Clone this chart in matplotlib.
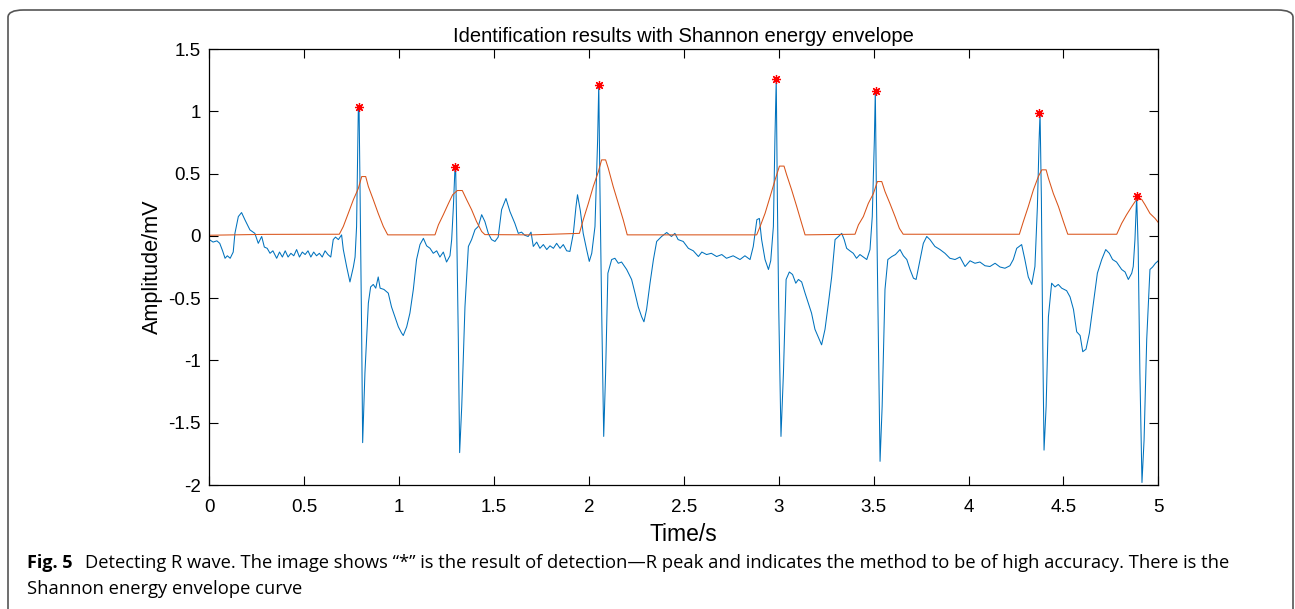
import matplotlib
matplotlib.use("Agg")
import matplotlib.pyplot as plt
from matplotlib.patches import FancyBboxPatch

# ECG signal (time in s, amplitude in mV)
ecg_t = [0.000, 0.020, 0.040, 0.055, 0.070, 0.083, 0.095, 0.110, 0.126, 0.135, 0.153, 0.170, 0.188, 0.214,
         0.240, 0.258, 0.276, 0.290, 0.305, 0.320, 0.335, 0.355, 0.370, 0.385, 0.400, 0.415, 0.430, 0.445,
         0.460, 0.475, 0.490, 0.505, 0.520, 0.535, 0.550, 0.565, 0.580, 0.595, 0.610, 0.625, 0.640, 0.653,
         0.665, 0.680, 0.697, 0.706, 0.724, 0.741, 0.759, 0.768, 0.776, 0.785, 0.789, 0.794, 0.803, 0.808,
         0.820, 0.838, 0.850, 0.864, 0.877, 0.890, 0.900, 0.920, 0.943, 0.960, 0.978, 0.996, 1.013, 1.022,
         1.040, 1.057, 1.075, 1.092, 1.110, 1.128, 1.145, 1.163, 1.180, 1.198, 1.215, 1.233, 1.250, 1.268,
         1.277, 1.286, 1.294, 1.298, 1.303, 1.312, 1.319, 1.330, 1.347, 1.365, 1.382, 1.400, 1.417, 1.435,
         1.452, 1.470, 1.487, 1.505, 1.522, 1.540, 1.563, 1.584, 1.610, 1.628, 1.645, 1.662, 1.680, 1.695,
         1.707, 1.725, 1.742, 1.760, 1.778, 1.795, 1.813, 1.830, 1.848, 1.865, 1.883, 1.900, 1.918, 1.932,
         1.940, 1.955, 1.970, 1.988, 2.002, 2.015, 2.032, 2.046, 2.052, 2.058, 2.067, 2.078, 2.088, 2.100,
         2.120, 2.137, 2.155, 2.172, 2.199, 2.225, 2.243, 2.260, 2.278, 2.290, 2.304, 2.322, 2.340, 2.357,
         2.383, 2.410, 2.435, 2.453, 2.470, 2.497, 2.524, 2.550, 2.577, 2.595, 2.620, 2.645, 2.673, 2.700,
         2.725, 2.760, 2.796, 2.822, 2.849, 2.866, 2.885, 2.898, 2.910, 2.928, 2.946, 2.958, 2.972, 2.980,
         2.987, 2.993, 3.000, 3.012, 3.025, 3.039, 3.056, 3.073, 3.090, 3.104, 3.121, 3.139, 3.156, 3.173,
         3.191, 3.208, 3.226, 3.244, 3.262, 3.279, 3.297, 3.315, 3.332, 3.345, 3.358, 3.375, 3.393, 3.410,
         3.428, 3.446, 3.464, 3.481, 3.493, 3.504, 3.509, 3.515, 3.525, 3.534, 3.545, 3.560, 3.575, 3.596,
         3.615, 3.639, 3.657, 3.675, 3.692, 3.710, 3.724, 3.745, 3.762, 3.780, 3.797, 3.823, 3.850, 3.876,
         3.902, 3.929, 3.955, 3.982, 4.008, 4.034, 4.060, 4.087, 4.113, 4.140, 4.166, 4.192, 4.218, 4.236,
         4.254, 4.280, 4.297, 4.315, 4.333, 4.350, 4.363, 4.372, 4.377, 4.384, 4.391, 4.398, 4.409, 4.421,
         4.438, 4.456, 4.473, 4.491, 4.517, 4.535, 4.553, 4.570, 4.588, 4.602, 4.619, 4.637, 4.658, 4.679,
         4.702, 4.723, 4.742, 4.759, 4.780, 4.807, 4.825, 4.842, 4.860, 4.868, 4.877, 4.886, 4.894, 4.903,
         4.914, 4.925, 4.939, 4.956, 4.970, 4.985, 5.000]
ecg_v = [-0.03, -0.05, -0.04, -0.06, -0.12, -0.18, -0.16, -0.18, -0.13, 0.02, 0.155, 0.187, 0.128, 0.048,
         0.02, -0.06, -0.005, -0.09, -0.10, -0.14, -0.12, -0.18, -0.13, -0.17, -0.12, -0.17, -0.14, -0.16,
         -0.11, -0.17, -0.13, -0.15, -0.12, -0.17, -0.13, -0.16, -0.14, -0.17, -0.12, -0.15, -0.17, -0.03,
         -0.01, -0.03, 0.008, -0.11, -0.25, -0.37, -0.25, -0.17, 0.075, 1.01, 1.04, 0.40, -0.83, -1.66,
         -1.10, -0.54, -0.41, -0.39, -0.42, -0.33, -0.42, -0.43, -0.46, -0.57, -0.65, -0.73, -0.78, -0.80,
         -0.73, -0.62, -0.43, -0.19, -0.07, -0.02, -0.08, -0.10, -0.14, -0.12, -0.17, -0.13, -0.21, -0.16,
         -0.03, 0.235, 0.53, 0.55, 0.10, -0.83, -1.74, -1.37, -0.57, -0.085, -0.03, 0.05, 0.075, 0.17,
         0.115, 0.02, -0.03, -0.045, -0.01, 0.21, 0.30, 0.195, 0.10, 0.02, 0.03, 0.005, -0.005, 0.03,
         -0.085, -0.05, -0.10, -0.07, -0.11, -0.08, -0.10, -0.06, -0.10, -0.07, -0.12, -0.125, 0.02, 0.235,
         0.33, 0.20, 0.02, -0.11, -0.205, -0.14, 0.075, 0.77, 1.22, 0.40, -0.57, -1.61, -1.10, -0.30,
         -0.19, -0.18, -0.22, -0.21, -0.27, -0.35, -0.46, -0.57, -0.65, -0.69, -0.59, -0.38, -0.19, -0.045,
         -0.005, 0.027, -0.005, 0.02, -0.03, -0.045, -0.10, -0.12, -0.166, -0.13, -0.15, -0.14, -0.166, -0.15,
         -0.18, -0.16, -0.19, -0.16, -0.19, -0.085, 0.13, 0.14, -0.03, -0.19, -0.27, -0.20, 0.075, 0.77,
         1.26, 0.30, -0.57, -1.61, -1.10, -0.35, -0.29, -0.31, -0.38, -0.35, -0.37, -0.46, -0.54, -0.62,
         -0.75, -0.81, -0.875, -0.75, -0.54, -0.33, -0.03, -0.005, 0.02, -0.03, -0.10, -0.12, -0.14, -0.18,
         -0.15, -0.17, -0.19, -0.11, 0.155, 0.77, 1.17, 0.30, -0.83, -1.81, -1.37, -0.43, -0.19, -0.166,
         -0.15, -0.11, -0.16, -0.19, -0.27, -0.34, -0.35, -0.19, -0.06, -0.005, -0.03, -0.085, -0.11, -0.14,
         -0.18, -0.19, -0.17, -0.246, -0.20, -0.22, -0.21, -0.24, -0.246, -0.22, -0.25, -0.26, -0.24, -0.19,
         -0.10, -0.07, -0.19, -0.33, -0.39, -0.246, 0.235, 0.77, 0.99, 0.30, -0.83, -1.72, -1.37, -0.65,
         -0.38, -0.41, -0.39, -0.42, -0.44, -0.49, -0.59, -0.77, -0.80, -0.93, -0.91, -0.78, -0.54, -0.30,
         -0.19, -0.11, -0.14, -0.19, -0.21, -0.27, -0.29, -0.35, -0.30, -0.246, -0.03, 0.32, -0.10, -1.10,
         -1.98, -1.64, -0.83, -0.27, -0.25, -0.22, -0.20]

# Shannon energy envelope
env_t = [0.000, 0.300, 0.685, 0.706, 0.732, 0.759, 0.785, 0.803, 0.824, 0.838, 0.864, 0.890, 0.917, 0.940,
         1.189, 1.207, 1.233, 1.260, 1.282, 1.307, 1.333, 1.356, 1.382, 1.408, 1.435, 1.452, 1.700, 1.950,
         1.970, 1.997, 2.023, 2.050, 2.067, 2.088, 2.102, 2.128, 2.155, 2.181, 2.202, 2.884, 2.902, 2.928,
         2.955, 2.981, 3.004, 3.028, 3.042, 3.068, 3.095, 3.121, 3.139, 3.402, 3.420, 3.446, 3.472, 3.499,
         3.520, 3.543, 3.560, 3.586, 3.613, 3.636, 3.656, 4.268, 4.289, 4.315, 4.342, 4.368, 4.386, 4.409,
         4.421, 4.447, 4.474, 4.500, 4.523, 4.781, 4.807, 4.833, 4.860, 4.886, 4.912, 4.930, 4.956, 4.983,
         5.000]
env_v = [0.005, 0.012, 0.013, 0.075, 0.18, 0.29, 0.38, 0.476, 0.476, 0.396, 0.29, 0.18, 0.075, 0.008,
         0.008, 0.088, 0.17, 0.26, 0.33, 0.364, 0.364, 0.29, 0.21, 0.115, 0.035, 0.010, 0.008, 0.02,
         0.128, 0.26, 0.396, 0.516, 0.61, 0.61, 0.543, 0.396, 0.26, 0.128, 0.008, 0.008, 0.075, 0.18,
         0.316, 0.45, 0.56, 0.56, 0.49, 0.37, 0.235, 0.10, 0.008, 0.013, 0.088, 0.155, 0.26, 0.34,
         0.436, 0.436, 0.356, 0.26, 0.155, 0.06, 0.013, 0.013, 0.115, 0.235, 0.37, 0.476, 0.53, 0.53,
         0.463, 0.34, 0.235, 0.115, 0.013, 0.013, 0.10, 0.17, 0.235, 0.294, 0.294, 0.25, 0.18, 0.14,
         0.107]

# Detected R peaks
peak_t = [0.789, 1.296, 2.053, 2.986, 3.512, 4.373, 4.888]
peak_v = [1.035, 0.554, 1.212, 1.26, 1.164, 0.987, 0.321]

x_ticks = [0, 0.5, 1, 1.5, 2, 2.5, 3, 3.5, 4, 4.5, 5]
x_labels = ["0", "0.5", "1", "1.5", "2", "2.5", "3", "3.5", "4", "4.5", "5"]
y_ticks = [-2, -1.5, -1, -0.5, 0, 0.5, 1, 1.5]
y_labels = ["-2", "-1.5", "-1", "-0.5", "0", "0.5", "1", "1.5"]

W, H = 1295, 609
fig = plt.figure(figsize=(W / 100, H / 100), dpi=100)
fig.patch.set_facecolor("white")

# rounded frame around figure + caption
frame = FancyBboxPatch((8 / W, -20 / H), (1293 - 8) / W, (H - 10 + 20) / H,
                       boxstyle="round,pad=0,rounding_size=0.012",
                       transform=fig.transFigure, facecolor="none",
                       edgecolor="#555555", linewidth=1.2, zorder=5)
fig.patches.append(frame)

ax = fig.add_axes([209.3 / W, (H - 485) / H, (1158.3 - 209.3) / W, (485 - 49) / H])
ax.set_facecolor("white")
ax.plot(ecg_t, ecg_v, color="#0072BD", linewidth=0.75)
ax.plot(env_t, env_v, color="#D95319", linewidth=0.75)
ax.plot(peak_t, peak_v, linestyle="none", marker=(8, 2, 0), color="red",
        markersize=6.5, markeredgewidth=0.9)

ax.set_xlim(0, 5)
ax.set_ylim(-2, 1.5)
ax.set_xticks(x_ticks)
ax.set_xticklabels(x_labels)
ax.set_yticks(y_ticks)
ax.set_yticklabels(y_labels)

font = "Liberation Sans"
ax.tick_params(direction="in", length=6.5, width=0.8, top=True, right=True,
               labelsize=13.5)
ax.tick_params(axis="x", pad=10)
ax.tick_params(axis="y", pad=6)
for lab in ax.get_xticklabels() + ax.get_yticklabels():
    lab.set_fontfamily(font)
for s in ax.spines.values():
    s.set_linewidth(0.9)

ax.set_title("Identification results with Shannon energy envelope",
             fontfamily=font, fontsize=14.5, pad=5)
ax.set_xlabel("Time/s", fontfamily=font, fontsize=16.5, labelpad=5)
ax.set_ylabel("Amplitude/mV", fontfamily=font, fontsize=15.6, labelpad=4)

# caption
cap_font = "Open Sans"
fig.canvas.draw()
renderer = fig.canvas.get_renderer()
t1 = fig.text(27 / W, 1 - 563 / H, "Fig. 5", fontfamily=cap_font, fontweight="bold",
              fontsize=13, va="center", ha="left")
bb1 = t1.get_window_extent(renderer=renderer)
x_start = bb1.x1 + 12
t2 = fig.text(x_start / W, 1 - 563 / H,
              "Detecting R wave. The image shows \u201c*\u201d is the result of detection\u2014R peak and indicates "
              "the method to be of high accuracy. There is the",
              fontfamily=cap_font, fontsize=13, va="center", ha="left")
bb2 = t2.get_window_extent(renderer=renderer)
cap_size = 13 * (1225 - x_start) / bb2.width
t2.set_fontsize(cap_size)
t3 = fig.text(27 / W, 1 - 589 / H, "Shannon energy envelope curve",
              fontfamily=cap_font, fontsize=cap_size, va="center", ha="left")

fig.savefig("out.png", dpi=100, facecolor="white")
